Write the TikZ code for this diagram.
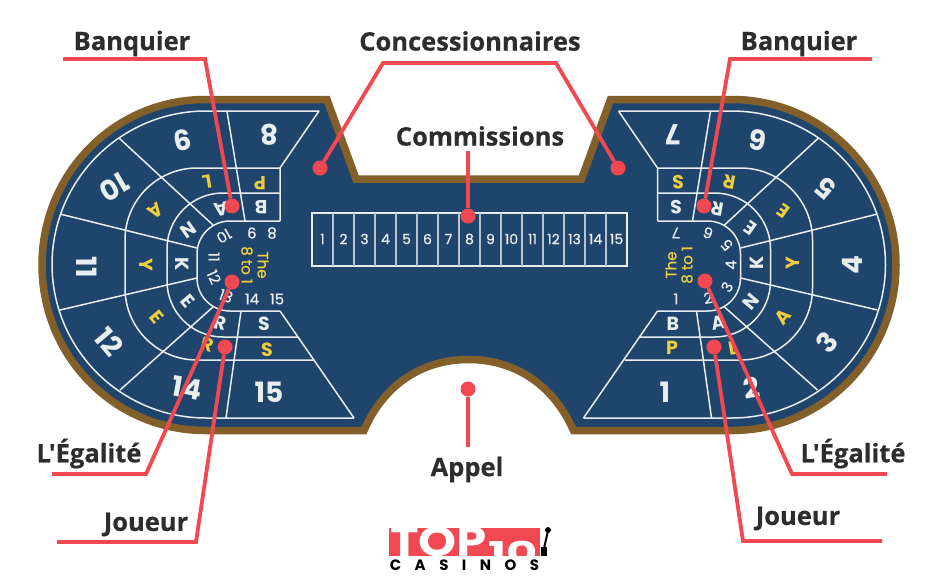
\documentclass[tikz,border=0pt]{standalone}
\usepackage{fontspec}
\setmainfont{Open Sans}[Ligatures=TeXOff,BoldFeatures={FakeBold=0.5}]
\newfontfamily\mesaf{Poppins}
\newfontfamily\chicof{Poppins}[FakeBold=0.6]
\newfontfamily\logof{Poppins}[LetterSpace=90]
\usetikzlibrary{positioning}
\definecolor{azul}{RGB}{31,69,109}
\definecolor{marron}{RGB}{131,96,42}
\definecolor{rojo}{RGB}{241,72,82}
\definecolor{grisf}{RGB}{45,45,45}
\definecolor{tiza}{RGB}{232,238,238}
\definecolor{oro}{RGB}{240,205,60}
\tikzset{
  mesa/.style={draw=marron, line width=7.5pt, miter limit=10, fill=azul},
  raya/.style={draw=tiza, line width=1.5pt, line join=miter},
  rayafina/.style={draw=tiza!75!azul, line width=1.1pt},
  grande/.style={text=tiza, inner sep=0pt, font=\mesaf\fontsize{28}{28}\selectfont\bfseries},
  letra/.style={text=tiza, inner sep=0pt, font=\mesaf\fontsize{19}{19}\selectfont\bfseries},
  letrao/.style={letra, text=oro},
  chico/.style={text=tiza, inner sep=0pt, font=\chicof\fontsize{15}{15}\selectfont},
  chicoo/.style={text=oro, inner sep=0pt, align=center, font=\chicof\fontsize{15}{16}\selectfont},
  apuesta/.style={text=tiza, inner sep=0pt, font=\chicof\fontsize{14}{14}\selectfont},
  et/.style={text=grisf, inner sep=0pt, font=\fontsize{25.5}{25.5}\selectfont\bfseries},
  guia/.style={draw=rojo, line width=3.8pt, line join=miter},
  punto/.style={circle, fill=rojo, inner sep=0pt, minimum size=15pt},
}
\newcommand{\lineasmesa}{
  \draw[raya, rounded corners=154pt] (319,111) -- (52,111) -- (52,418) -- (354,418);
  \draw[raya, rounded corners=72pt] (280,168) -- (125,168) -- (125,360) -- (313,360);
  \draw[raya, rounded corners=56pt] (280,193) -- (167,193) -- (167,337) -- (298,337);
  \draw[raya, rounded corners=33pt] (280,221) -- (197,221) -- (197,311) -- (280,311);
  \draw[raya] (319,111) -- (280,168) -- (280,221);
  \draw[raya] (280,311) -- (354,418);
  \draw[raya] (227,111) -- (245,221);
  \draw[raya] (241,311) -- (226,418);
  \draw[raya] (119,138) -- (213,225);
  \draw[raya] (60,214) -- (197,248);
  \draw[raya] (60,310) -- (197,278);
  \draw[raya] (120,390) -- (213,307);
}

\begin{document}
\begin{tikzpicture}[x=1pt,y=-1pt]
  \useasboundingbox (0,0) rectangle (940,578);
  \path[mesa, rounded corners=0pt] (327,99.5) -- (356,179) -- (581.5,179) -- (610.5,99.5)
    -- (732,99.5) .. controls (823,99.5) and (896,174) .. (896,265)
    .. controls (896,356) and (823,430.5) .. (732,430.5) -- (573.5,430.5)
    .. controls (553,384) and (514,359.5) .. (468.5,359.5)
    .. controls (423,359.5) and (384,384) .. (364,430.5) -- (205.5,430.5)
    .. controls (114,430.5) and (42,356) .. (42,265)
    .. controls (42,174) and (114,99.5) .. (205.5,99.5) -- cycle;
  \lineasmesa
  \begin{scope}[shift={(937.5,0)},xscale=-1]
    \lineasmesa
  \end{scope}
  \draw[raya] (312,213) rectangle (627,266);
  \foreach \i in {1,...,14} \draw[rayafina] ({312+21*\i},213) -- ({312+21*\i},266);
  \foreach \i in {1,...,15} \node[apuesta] (ap\i) at ({301.5+21*\i},239) {\i};
  \foreach \x/\y/\r/\t [count=\i] in {269/135/180/8, 183/140/190/9, 114/187/210/10, 87/267/-90/11,
    109/342/-50/12, 187/388/-10/14, 269/392/0/15, 673/135/180/7, 758/140/170/6, 826/188/140/5,
    852/265/90/4, 827/342/50/3, 752/388/10/2, 665/392/0/1}
    \node[grande, rotate=\r] (gr\i) at (\x,\y) {\t};
  \foreach \x/\y/\r/\t [count=\i] in {260/183/180/P, 207/182/190/L, 156/211/215/A, 146/265/-90/Y,
    157/317/-50/E, 207/345/-15/R, 267/350/0/S, 678/182/180/S, 729/182/170/R, 783/211/145/E,
    793/263/90/Y, 783/317/50/A, 733/348/10/L, 672/348/0/P}
    \node[letrao, rotate=\r] (lo\i) at (\x,\y) {\t};
  \foreach \x/\y/\r/\t [count=\i] in {261/207/180/B, 221/209/190/A, 188/230/215/N, 182/264/-90/K,
    188/301/-50/E, 220/323/-10/R, 264/324/0/S, 676/207/180/S, 717/209/170/R, 750/228/145/E,
    757/263/90/K, 751/302/50/N, 718/323/10/A, 673/324/0/B}
    \node[letra, rotate=\r] (lb\i) at (\x,\y) {\t};
  \foreach \x/\y/\r/\t [count=\i] in {252/233/180/9, 272/233/180/8, 224/236/210/10, 214/257/-90/11,
    214/277/-65/12, 226/296/-20/13, 252/299/0/14, 277/299/0/15, 676/233/180/7, 708/233/160/6,
    727/245/130/5, 731/265/90/4, 727/287/60/3, 708/298/10/2, 676/299/0/1}
    \node[chico, rotate=\r] (ch\i) at (\x,\y) {\t};
  \node[chicoo, rotate=-90] (oc1) at (255,265) {The\\8 to 1};
  \node[chicoo, rotate=90] (oc2) at (679,265) {The\\8 to 1};

  \node[et] (ban1) at (132,43.5) {Banquier};
  \node[et] (con) at (470,41) {Concessionnaires};
  \node[et] (ban2) at (799,43.5) {Banquier};
  \node[et] (com) at (480,136) {Commissions};
  \node[et] (ega1) at (89,453.5) {L'Égalité};
  \node[et] (ega2) at (853,453.5) {L'Égalité};
  \node[et] (jou1) at (146,524.5) {Joueur};
  \node[et] (jou2) at (798,518.5) {Joueur};
  \node[et] (app) at (467,469.5) {Appel};

  \node[punto] (pban1) at (232,206) {};
  \node[punto] (pcon1) at (320,168) {};
  \node[punto] (pcon2) at (618,168) {};
  \node[punto] (pcom) at (468,216) {};
  \node[punto] (pban2) at (704,206) {};
  \node[punto] (pega1) at (232,282) {};
  \node[punto] (pjou1) at (225,347) {};
  \node[punto] (pega2) at (705,281) {};
  \node[punto] (pjou2) at (714,347) {};
  \node[punto] (papp) at (468,389) {};

  \coordinate (a1) at (63,59); \coordinate (a2) at (205,59);
  \coordinate (b1) at (383,63); \coordinate (b2) at (556,63);
  \coordinate (c1) at (872,59); \coordinate (c2) at (730,59);
  \coordinate (d1) at (52,474); \coordinate (d2) at (146,474);
  \coordinate (e1) at (57,542); \coordinate (e2) at (196,542);
  \coordinate (f1) at (887,474); \coordinate (f2) at (792,474);
  \coordinate (g1) at (882,541); \coordinate (g2) at (743,541);
  \coordinate (h1) at (468,151); \coordinate (i1) at (468,447);
  \draw[guia] (a1) -- (a2) -- (pban1);
  \draw[guia] (pcon1) -- (b1) -- (b2) -- (pcon2);
  \draw[guia] (c1) -- (c2) -- (pban2);
  \draw[guia] (d1) -- (d2) -- (pega1);
  \draw[guia] (e1) -- (e2) -- (pjou1);
  \draw[guia] (f1) -- (f2) -- (pega2);
  \draw[guia] (g1) -- (g2) -- (pjou2);
  \draw[guia] (h1) -- (pcom);
  \draw[guia] (i1) -- (papp);

  \fill[rojo] (389,528) rectangle (540,556);
  \begin{scope}
    \clip (389,528) rectangle (540,556);
    \node[text=white, inner sep=0pt, anchor=west, xscale=1.15, transform shape, font=\mesaf\fontsize{42}{42}\selectfont\bfseries] (top) at (390,542) {TOP};
    \node[text=white, inner sep=0pt, xscale=1.6, transform shape, font=\mesaf\fontsize{30}{30}\selectfont\bfseries] (diez) at (513,552) {10};
  \end{scope}
  \node[text=black, inner sep=0pt, font=\logof\fontsize{15}{15}\selectfont\bfseries] (cas) at (464.5,565) {CASINOS};
  \fill[black] (541,547) rectangle (547,556);
  \draw[black, line width=2pt] (544,548) -- (548,531);
  \fill[black] (548,530) circle (3);
\end{tikzpicture}
\end{document}
